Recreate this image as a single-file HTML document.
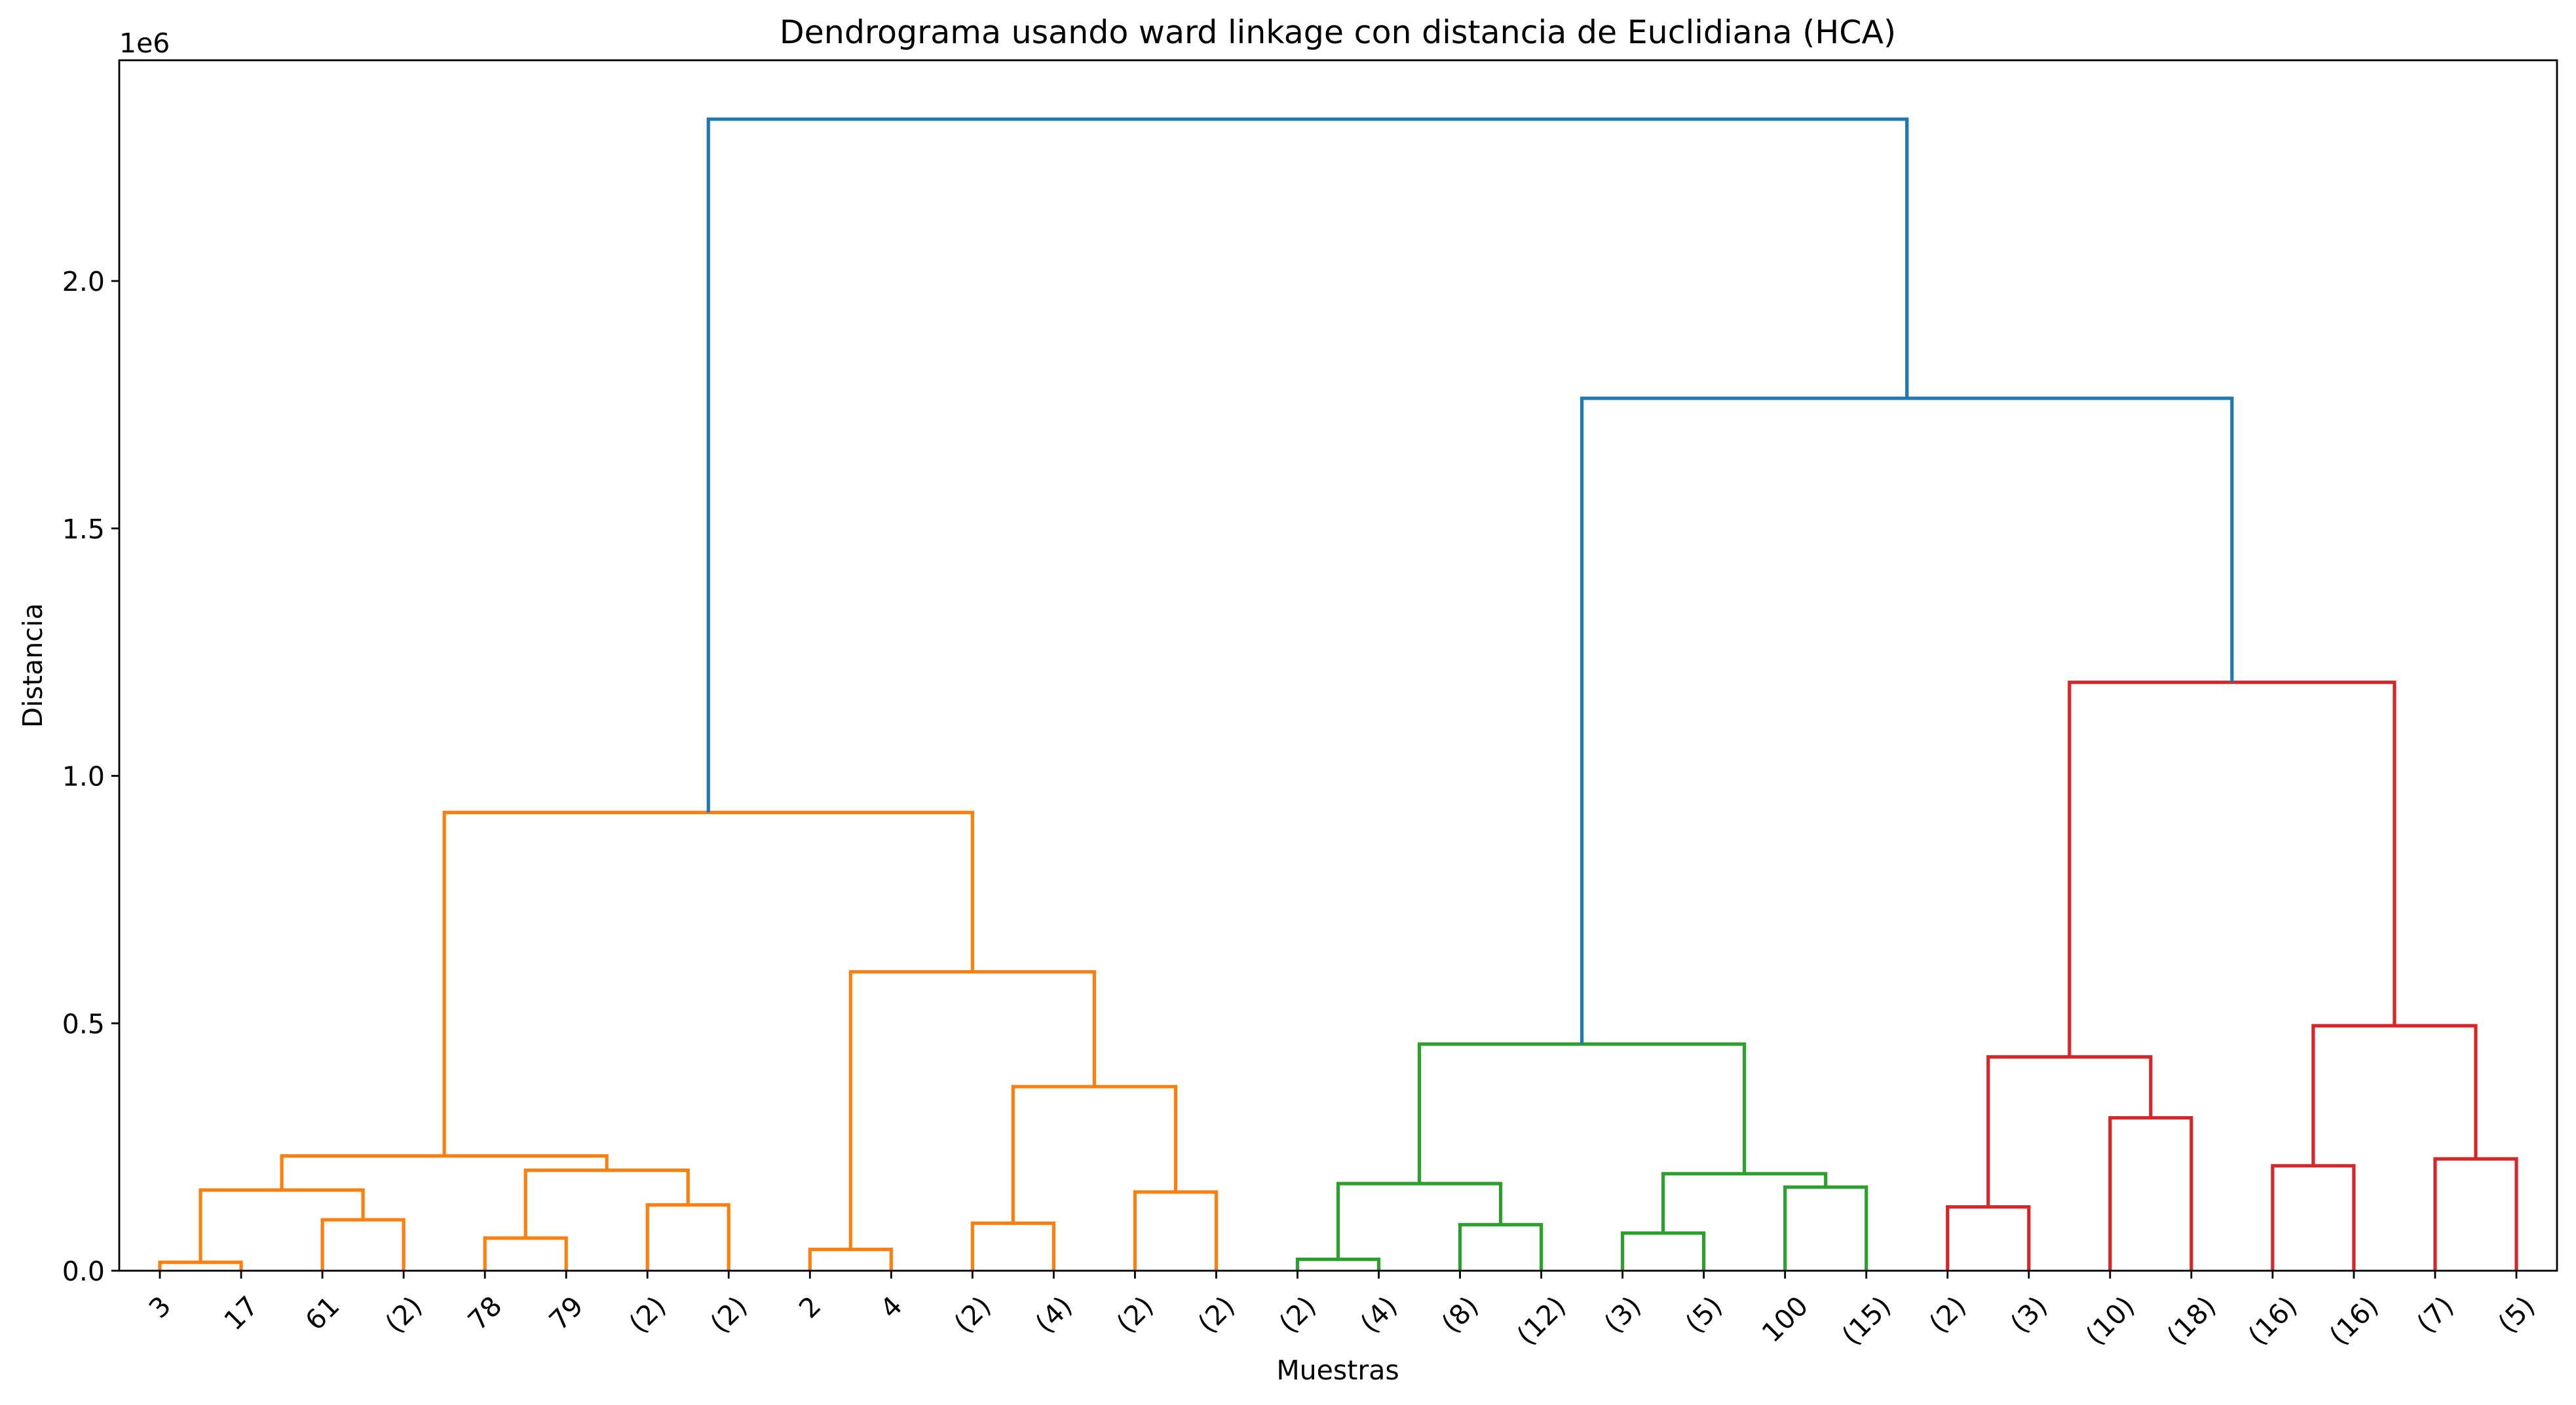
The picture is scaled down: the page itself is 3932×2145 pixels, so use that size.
<!DOCTYPE html>
<html><head><meta charset="utf-8"><style>
html,body{margin:0;padding:0;background:#fff;}
svg{display:block;font-family:"DejaVu Sans","Liberation Sans",sans-serif;}
</style></head><body>
<svg id="chart" width="3932" height="2145" viewBox="0 0 3932 2145" xmlns="http://www.w3.org/2000/svg">
<rect x="0" y="0" width="3932" height="2145" fill="#fff"/>
<text x="2042" y="66" font-size="49" text-anchor="middle">Dendrograma usando ward linkage con distancia de Euclidiana (HCA)</text>
<text x="182" y="80" font-size="41">1e6</text>
<text x="2042" y="2106" font-size="41" text-anchor="middle">Muestras</text>
<text x="0" y="0" font-size="41" text-anchor="middle" transform="translate(64,1016) rotate(-90)">Distancia</text>
<g id="marks"></g>
<g id="axes"></g>
</svg>
<script>
const leafLabels = ["3","17","61","(2)","78","79","(2)","(2)","2","4","(2)","(4)","(2)","(2)","(2)","(4)","(8)","(12)","(3)","(5)","100","(15)","(2)","(3)","(10)","(18)","(16)","(16)","(7)","(5)"];
// merges: children indices (leaves 0..29, cluster 30+k = merge k)
const mergeLeft  = [0, 2, 30, 4, 6, 33, 32, 8, 10, 12, 38, 37, 36, 14, 16, 43, 18, 20, 46, 45, 22, 24, 50, 26, 28, 53, 52, 49, 42];
const mergeRight = [1, 3, 31, 5, 7, 34, 35, 9, 11, 13, 39, 40, 41, 15, 17, 44, 19, 21, 47, 48, 23, 25, 51, 27, 29, 54, 55, 56, 57];
const mergeHeights = [0.017,0.103,0.163,0.066,0.133,0.203,0.232,0.043,0.096,0.159,0.372,0.604,0.926,0.023,0.093,0.176,0.076,0.169,0.196,0.458,0.129,0.309,0.432,0.212,0.226,0.495,1.189,1.763,2.327];
const mergeColors = ["o","o","o","o","o","o","o","o","o","o","o","o","o","g","g","g","g","g","g","g","r","r","r","r","r","r","r","b","b"];
const yTicks = [0,0.5,1.0,1.5,2.0];
const yTickLabels = ["0.0","0.5","1.0","1.5","2.0"];
</script>
<script>
const palette = {o:"#ff7f0e", g:"#2ca02c", r:"#d62728", b:"#1f77b4"};
const NS = "http://www.w3.org/2000/svg";
const AX_L=182, AX_R=3903, AX_T=92, Y0=1940, PER=755.5;
const FS=41;
const n = leafLabels.length;
const xs = i => AX_L + (AX_R-AX_L)*(10*i+5)/(10*n);
const ys = v => Y0 - v*PER;
const marks = document.getElementById('marks');
const axes = document.getElementById('axes');
const pos = [], hts = [];
for (let i=0;i<n;i++){pos[i]=xs(i);hts[i]=0;}
for (let k=0;k<mergeLeft.length;k++){
  const a=mergeLeft[k], b=mergeRight[k], h=mergeHeights[k];
  const xa=pos[a], xb=pos[b];
  const p=document.createElementNS(NS,'path');
  p.setAttribute('d',`M${xa},${ys(hts[a])}V${ys(h)}H${xb}V${ys(hts[b])}`);
  p.setAttribute('fill','none');
  p.setAttribute('stroke',palette[mergeColors[k]]);
  p.setAttribute('stroke-width','5.2');
  
  
  marks.appendChild(p);
  pos[n+k]=(xa+xb)/2; hts[n+k]=h;
}
const fr=document.createElementNS(NS,'rect');
fr.setAttribute('x',AX_L);fr.setAttribute('y',AX_T);fr.setAttribute('width',AX_R-AX_L);fr.setAttribute('height',Y0-AX_T);
fr.setAttribute('fill','none');fr.setAttribute('stroke','#000');fr.setAttribute('stroke-width','2.8');


axes.appendChild(fr);
yTicks.forEach((v,i)=>{
  const y=ys(v);
  const t=document.createElementNS(NS,'line');
  t.setAttribute('x1',AX_L-12);t.setAttribute('x2',AX_L);t.setAttribute('y1',y);t.setAttribute('y2',y);
  t.setAttribute('stroke','#000');t.setAttribute('stroke-width','2.8');
  
  
  axes.appendChild(t);
  const tx=document.createElementNS(NS,'text');
  tx.setAttribute('x',AX_L-22);tx.setAttribute('y',y+15);tx.setAttribute('font-size',FS);tx.setAttribute('text-anchor','end');
  tx.textContent=yTickLabels[i];
  
  
  axes.appendChild(tx);
});
leafLabels.forEach((lab,i)=>{
  const x=xs(i);
  const t=document.createElementNS(NS,'line');
  t.setAttribute('x1',x);t.setAttribute('x2',x);t.setAttribute('y1',Y0);t.setAttribute('y2',Y0+12);
  t.setAttribute('stroke','#000');t.setAttribute('stroke-width','2.8');
  
  
  axes.appendChild(t);
  const tx=document.createElementNS(NS,'text');
  tx.setAttribute('font-size',FS);tx.setAttribute('text-anchor','middle');
  tx.textContent=lab;
  
  
  axes.appendChild(tx);
  let w=lab.length*26;
  try{w=tx.getComputedTextLength()||w;}catch(e){}
  const bh=(w+FS)/Math.SQRT2;
  const cy=1972+bh/2;
  tx.setAttribute('x',0);tx.setAttribute('y',14);
  tx.setAttribute('transform',`translate(${x},${cy}) rotate(-45)`);
});
</script>
</body></html>
